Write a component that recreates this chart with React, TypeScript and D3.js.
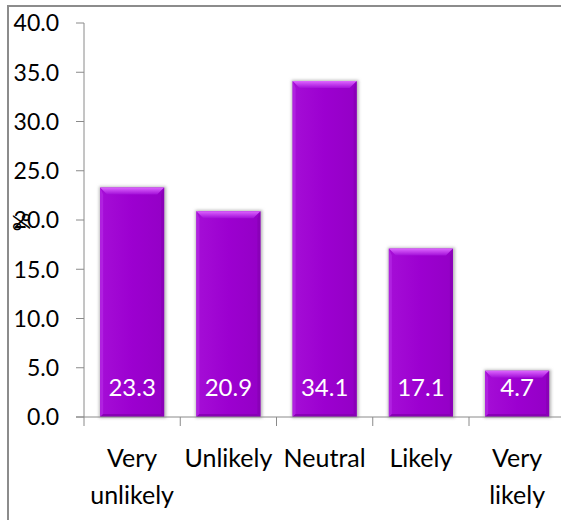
import React from "react";
import * as d3 from "d3";

const categories: string[][] = [["Very", "unlikely"], ["Unlikely"], ["Neutral"], ["Likely"], ["Very", "likely"]];
const values: number[] = [23.3, 20.9, 34.1, 17.1, 4.7];
const yTicks: number[] = [0, 5, 10, 15, 20, 25, 30, 35, 40];
const axisTitle = "%";

const W = 561;
const H = 520;
const FONT = "Lato, 'Open Sans', sans-serif";

export default function App() {
  const keys = categories.map((c) => c.join(" "));
  const plotLeft = 84;
  const step = 96.25;
  const x = d3
    .scaleBand<string>()
    .domain(keys)
    .range([plotLeft, plotLeft + step * keys.length])
    .paddingInner(0.335)
    .paddingOuter(0.1675);
  const y = d3.scaleLinear().domain([0, 40]).range([417, 23]);
  const fmt = d3.format(".1f");
  const bw = x.bandwidth();
  const bevel = 7;
  const side = 3;
  const tickPositions = d3.range(keys.length + 1).map((i) => plotLeft + i * x.step());

  return (
    <svg width={W} height={H} style={{ position: "absolute", left: 0, top: 0, background: "#fff" }}>
      <defs>
        <linearGradient id="topBevel" x1="0" y1="0" x2="0" y2="1">
          <stop offset="0" stopColor="#dd66ff" />
          <stop offset="1" stopColor="#a30fd8" />
        </linearGradient>
        <linearGradient id="body" x1="0" y1="0" x2="1" y2="0">
          <stop offset="0" stopColor="#a50ed6" />
          <stop offset="0.5" stopColor="#9c00d0" />
          <stop offset="1" stopColor="#9400c6" />
        </linearGradient>
        <filter id="shadow" x="-20%" y="-20%" width="140%" height="140%">
          <feGaussianBlur stdDeviation="1.6" />
        </filter>
      </defs>

      {/* outer chart frame */}
      <rect x={8} y={6} width={640} height={600} fill="none" stroke="#8c8c8c" strokeWidth={2} />

      {/* value axis */}
      <line x1={plotLeft} x2={plotLeft} y1={y(40)} y2={y(0)} stroke="#8a8a8a" strokeWidth={1} />
      {yTicks.map((t) => (
        <g key={t}>
          <line x1={plotLeft - 8} x2={plotLeft} y1={y(t)} y2={y(t)} stroke="#8a8a8a" strokeWidth={1} />
          <text x={59} y={y(t)} dy="0.36em" textAnchor="end" fontFamily={FONT} fontSize={23} fill="#000">
            {fmt(t)}
          </text>
        </g>
      ))}
      <text
        transform={`translate(22,222) rotate(-90)`}
        textAnchor="middle"
        dy="0.36em"
        fontFamily={FONT}
        fontSize={23}
        fill="#000"
      >
        {axisTitle}
      </text>

      {/* bars */}
      {values.map((v, i) => {
        const bx = x(keys[i]) as number;
        const by = y(v);
        const bh = y(0) - by;
        return (
          <g key={keys[i]}>
            <rect x={bx - 1} y={by - 1} width={bw + 3} height={bh + 2} fill="#b8b8b8" filter="url(#shadow)" />
            <rect x={bx} y={by} width={bw} height={bh} fill="url(#body)" />
            <polygon
              points={`${bx},${by} ${bx + side},${by + bevel} ${bx + side},${by + bh - side} ${bx},${by + bh}`}
              fill="#b021e0"
            />
            <polygon
              points={`${bx + bw},${by} ${bx + bw - side},${by + bevel} ${bx + bw - side},${by + bh - side} ${bx + bw},${by + bh}`}
              fill="#8a00b8"
            />
            <polygon
              points={`${bx},${by + bh} ${bx + side},${by + bh - side} ${bx + bw - side},${by + bh - side} ${bx + bw},${by + bh}`}
              fill="#8800b5"
            />
            <polygon
              points={`${bx},${by} ${bx + bw},${by} ${bx + bw - bevel},${by + bevel} ${bx + bevel},${by + bevel}`}
              fill="url(#topBevel)"
            />
            <text
              x={bx + bw / 2}
              y={396}
              textAnchor="middle"
              fontFamily={FONT}
              fontSize={24}
              fill="#ffffff"
            >
              {fmt(v)}
            </text>
          </g>
        );
      })}

      {/* category axis */}
      <line x1={plotLeft - 8} x2={W + 10} y1={y(0)} y2={y(0)} stroke="#8a8a8a" strokeWidth={1} />
      {tickPositions.map((tx, i) => (
        <line key={i} x1={tx} x2={tx} y1={y(0)} y2={y(0) + 9} stroke="#8a8a8a" strokeWidth={1} />
      ))}
      {categories.map((lines, i) => {
        const cx = (x(keys[i]) as number) + bw / 2;
        return (
          <text key={keys[i]} x={cx} y={467} textAnchor="middle" fontFamily={FONT} fontSize={25} fill="#000">
            {lines.map((ln, j) => (
              <tspan key={j} x={cx} dy={j === 0 ? 0 : 37}>
                {ln}
              </tspan>
            ))}
          </text>
        );
      })}
    </svg>
  );
}
